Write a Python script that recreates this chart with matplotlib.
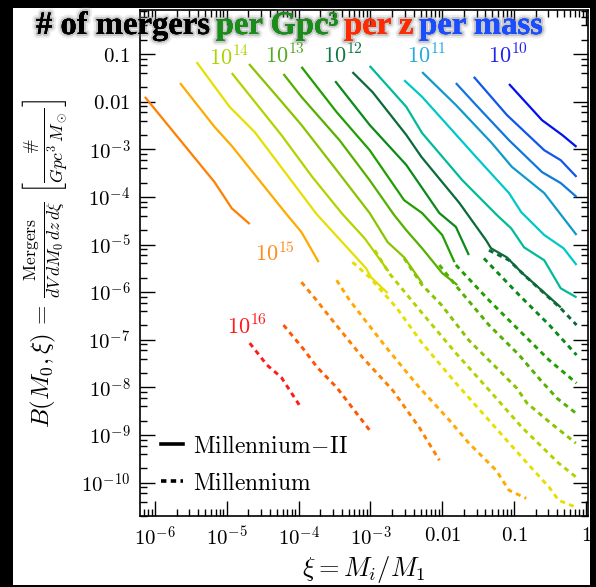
import math
import matplotlib
matplotlib.use("Agg")
import matplotlib.pyplot as plt
from matplotlib import ticker, patheffects
from matplotlib.lines import Line2D
from matplotlib.patches import Rectangle

plt.rcParams['mathtext.fontset'] = 'cm'
plt.rcParams['font.family'] = 'serif'
plt.rcParams['font.serif'] = ['DejaVu Serif']

# Millennium-II merger rates, one curve per halo mass bin (log10 xi, log10 B)
mill2_log_xi = [
    [-6.14, -5.17, -4.93, -4.68],
    [-5.65, -5.17, -4.93, -4.17, -3.96, -3.72],
    [-5.42, -4.96, -4.61, -3.75, -3.29, -3.06, -2.99, -2.76],
    [-4.93, -4.24, -3.81, -3.39, -3.08, -2.75],
    [-4.69, -4.22, -3.96, -3.47, -3.01, -2.76, -2.53, -2.28],
    [-4.21, -3.96, -3.43, -3.01, -2.67, -2.50, -2.28, -2.00, -1.79],
    [-3.96, -3.47, -3.01, -2.53, -2.28, -2.00, -1.83],
    [-3.49, -3.01, -2.50, -2.04, -1.81, -1.63],
    [-3.25, -2.97, -2.50, -2.29, -1.76, -1.39, -1.32, -1.10, -0.90, -0.35],
    [-3.01, -2.50, -2.28, -1.72, -1.24, -1.04, -0.86, -0.58, -0.35, -0.13],
    [-2.53, -2.28, -1.53, -1.07, -0.90, -0.58, -0.31, -0.13],
    [-2.28, -1.81, -1.31, -1.03, -0.58, -0.13],
    [-1.81, -1.53, -1.07, -0.61, -0.35, -0.13],
    [-1.56, -1.10, -0.58, -0.35, -0.13],
    [-1.07, -0.61, -0.33, -0.13],
]
mill2_log_B = [
    [-1.90, -3.69, -4.24, -4.57],
    [-1.61, -2.53, -2.93, -4.36, -4.74, -5.37],
    [-1.17, -2.11, -2.64, -4.36, -5.12, -5.50, -5.69, -6.02],
    [-1.40, -2.70, -3.58, -4.36, -4.87, -5.56],
    [-1.21, -2.03, -2.49, -3.44, -4.34, -4.95, -5.27, -5.81],
    [-1.42, -1.90, -2.81, -3.65, -4.38, -4.70, -5.08, -5.60, -5.85],
    [-1.27, -2.22, -3.02, -4.07, -4.34, -4.80, -5.37],
    [-1.57, -2.49, -3.33, -4.34, -4.63, -5.22],
    [-1.38, -1.80, -2.70, -3.16, -4.13, -4.91, -5.08, -5.27, -5.58, -6.32],
    [-1.25, -2.11, -2.66, -3.65, -4.38, -4.66, -5.06, -5.33, -5.92, -6.11],
    [-1.55, -1.90, -3.16, -3.92, -4.32, -4.80, -5.08, -5.43],
    [-1.38, -2.07, -2.87, -3.37, -3.92, -4.80],
    [-1.61, -2.07, -2.81, -3.48, -3.71, -4.00],
    [-1.48, -2.28, -3.02, -3.23, -3.58],
    [-1.63, -2.39, -2.70, -2.95],
]
mill2_colors = ['#ff7f00', '#ffaa00', '#e5e000', '#b0d400', '#88c400',
                '#55b000', '#229f00', '#0a8a1a', '#0a6a3a', '#00bb99',
                '#00c8c8', '#1199cc', '#1177dd', '#1155ee', '#0011ee']

# Millennium merger rates (higher mass bins)
mill_log_xi = [
    [-4.68, -4.44, -4.24, -3.99],
    [-4.21, -3.94, -3.74, -3.47, -3.01],
    [-3.96, -3.75, -3.53, -3.11, -2.69, -2.32, -2.04],
    [-3.47, -3.29, -2.78, -2.32, -1.90, -1.63, -1.25, -1.07, -0.83],
    [-3.25, -3.01, -2.64, -2.28, -1.81, -1.35, -0.89, -0.51, -0.38, -0.13],
    [-2.94, -2.74, -2.28, -1.81, -1.31, -0.89, -0.38, -0.13],
    [-2.53, -2.28, -2.01, -1.63, -1.21, -0.96, -0.82, -0.49, -0.14],
    [-2.04, -1.79, -1.35, -0.93, -0.63, -0.40, -0.14],
    [-1.81, -1.35, -0.93, -0.51, -0.13],
    [-1.42, -0.93, -0.51, -0.13],
    [-1.35, -1.07, -0.86, -0.35, -0.13],
]
mill_log_B = [
    [-7.07, -7.53, -7.79, -8.37],
    [-6.69, -7.18, -7.58, -8.00, -8.90],
    [-5.79, -6.17, -6.59, -7.37, -8.06, -8.84, -9.53],
    [-5.75, -6.17, -7.16, -8.00, -8.69, -9.17, -9.74, -10.16, -10.33],
    [-5.37, -5.69, -6.32, -7.07, -7.91, -8.69, -9.47, -10.10, -10.37, -10.52],
    [-5.12, -5.60, -6.44, -7.28, -8.12, -8.84, -9.59, -9.89],
    [-5.29, -5.85, -6.27, -7.01, -7.64, -8.02, -8.33, -8.75, -9.17],
    [-5.43, -5.90, -6.69, -7.32, -7.85, -8.23, -8.54],
    [-5.43, -6.17, -6.80, -7.43, -7.91],
    [-5.29, -6.06, -6.69, -7.32],
    [-5.12, -5.33, -5.64, -6.34, -6.69],
]
mill_colors = ['#ff1a1a', '#ff5500', '#ff7f00', '#ffaa00', '#e5e000', '#b0d400',
               '#88c400', '#55b000', '#229f00', '#0a8a1a', '#0a6a3a']

# halo mass annotations
mass_labels = [r'$10^{16}$', r'$10^{15}$', r'$10^{14}$', r'$10^{13}$',
               r'$10^{12}$', r'$10^{11}$', r'$10^{10}$']
mass_label_log_xi = [-4.72, -4.33, -4.96, -4.19, -3.38, -2.22, -1.08]
mass_label_log_B = [-6.74, -5.21, -1.10, -1.06, -1.06, -1.06, -1.06]
mass_label_colors = ['#ff1a1a', '#ff8c1a', '#aad400', '#55aa22',
                     '#117744', '#22aadd', '#2222ee']

xi_ticks = [1e-6, 1e-5, 1e-4, 1e-3, 1e-2, 1e-1, 1]
B_ticks = [10.0 ** e for e in range(-10, 0)]

title_parts = ['# of mergers', 'per Gpc\u00b3', 'per z', 'per mass']
title_colors = ['black', '#1a8c1a', '#ff2a00', '#1a4dff']

fig = plt.figure(figsize=(5.96, 5.87), dpi=100, facecolor='black')
fig.patches.append(Rectangle((13 / 596, 2 / 587), 577 / 596, 577 / 587,
                             transform=fig.transFigure, facecolor='white',
                             edgecolor='none', zorder=-10))
ax = fig.add_axes([140 / 596, 71 / 587, 448 / 596, 506 / 587])

for lx, lb, c in zip(mill2_log_xi, mill2_log_B, mill2_colors):
    ax.plot([10 ** v for v in lx], [10 ** v for v in lb], color=c, lw=1.6,
            solid_capstyle='butt')
for lx, lb, c in zip(mill_log_xi, mill_log_B, mill_colors):
    ax.plot([10 ** v for v in lx], [10 ** v for v in lb], color=c, lw=2.1,
            ls=(0, (1.7, 1.5)))

for lab, lx, lb, c in zip(mass_labels, mass_label_log_xi, mass_label_log_B,
                          mass_label_colors):
    ax.text(10 ** lx, 10 ** lb, lab, color=c, fontsize=16, ha='center',
            va='center')

ax.set_xscale('log')
ax.set_yscale('log')
ax.set_xlim(6.2e-7, 1.07)
ax.set_ylim(10 ** -10.70, 10 ** -0.076)


def log_fmt(v, pos):
    e = int(round(math.log10(v)))
    if e == 0:
        return r'$1$'
    if e == -1:
        return r'$0.1$'
    if e == -2:
        return r'$0.01$'
    return r'$10^{%d}$' % e


ax.xaxis.set_major_locator(ticker.FixedLocator(xi_ticks))
ax.yaxis.set_major_locator(ticker.FixedLocator(B_ticks))
ax.xaxis.set_minor_locator(ticker.LogLocator(base=10, subs=range(2, 10), numticks=20))
ax.yaxis.set_minor_locator(ticker.LogLocator(base=10, subs=(2, 4, 6, 8), numticks=20))
ax.xaxis.set_major_formatter(ticker.FuncFormatter(log_fmt))
ax.yaxis.set_major_formatter(ticker.FuncFormatter(log_fmt))
ax.xaxis.set_minor_formatter(ticker.NullFormatter())
ax.yaxis.set_minor_formatter(ticker.NullFormatter())
ax.tick_params(which='both', direction='in', top=True, right=True, width=1)
ax.tick_params(which='major', length=10.5, labelsize=15)
ax.tick_params(which='minor', length=5)
ax.tick_params(axis='x', pad=7)
ax.tick_params(axis='y', pad=7)
for sp in ax.spines.values():
    sp.set_linewidth(1.2)

ax.set_xlabel(r'$\xi = M_i/M_1$', fontsize=19, labelpad=3)
ax.set_ylabel(r'$B(M_0,\xi)\,=\,\frac{\mathrm{Mergers}}{dV\,dM_0\,dz\,d\xi}'
              r'\;\left[\frac{\#}{Gpc^3\,M_\odot}\right]$', fontsize=18,
              labelpad=8)

handles = [Line2D([], [], color='black', lw=2.6),
           Line2D([], [], color='black', lw=2.6, ls=(0, (1.5, 1.2)))]
ax.legend(handles, [r'$\mathrm{Millennium\!-\!II}$', r'$\mathrm{Millennium}$'],
          loc='lower left', bbox_to_anchor=(0.0, 0.0), frameon=False,
          fontsize=17, handlelength=0.9, handletextpad=0.45, labelspacing=0.6)

# multicoloured title, drawn piece by piece
fig.canvas.draw()
renderer = fig.canvas.get_renderer()
shadow = [patheffects.withStroke(linewidth=6, foreground=(0.5, 0.5, 0.5, 0.15)),
          patheffects.withStroke(linewidth=3, foreground=(0.45, 0.45, 0.45, 0.3)),
          patheffects.Normal()]
x = 36 / 596
for part, col in zip(title_parts, title_colors):
    t = fig.text(x, 1 - 34 / 587, part, color=col, fontsize=23.5, fontweight='bold',
                 family='Liberation Serif', va='baseline', ha='left',
                 path_effects=shadow, zorder=10)
    bb = t.get_window_extent(renderer)
    x = (bb.x1 + 6) / fig.bbox.width

fig.savefig('out.png', dpi=100, facecolor='black')
